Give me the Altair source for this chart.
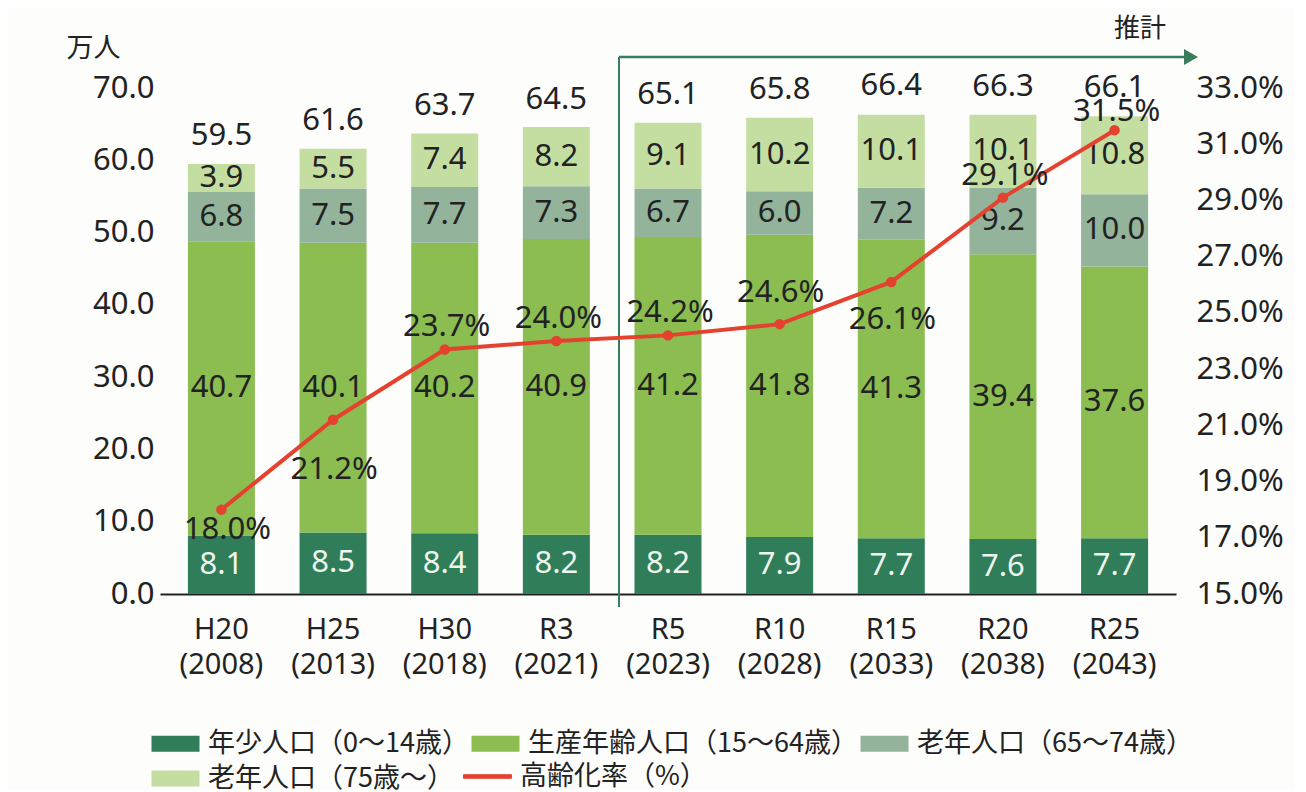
import altair as alt
import pandas as pd

# ---------------- data ----------------
categories = ["H20 (2008)", "H25 (2013)", "H30 (2018)", "R3 (2021)", "R5 (2023)",
              "R10 (2028)", "R15 (2033)", "R20 (2038)", "R25 (2043)"]
groups = ["年少人口（0～14歳）", "生産年齢人口（15～64歳）", "老年人口（65～74歳）", "老年人口（75歳～）"]
young = [8.1, 8.5, 8.4, 8.2, 8.2, 7.9, 7.7, 7.6, 7.7]
working = [40.7, 40.1, 40.2, 40.9, 41.2, 41.8, 41.3, 39.4, 37.6]
old65 = [6.8, 7.5, 7.7, 7.3, 6.7, 6.0, 7.2, 9.2, 10.0]
old75 = [3.9, 5.5, 7.4, 8.2, 9.1, 10.2, 10.1, 10.1, 10.8]
totals = [59.5, 61.6, 63.7, 64.5, 65.1, 65.8, 66.4, 66.3, 66.1]
aging_rate = [18.0, 21.2, 23.7, 24.0, 24.2, 24.6, 26.1, 29.1, 31.5]
line_name = "高齢化率（%）"

colors = ["#2f7d59", "#8bbd50", "#93b49a", "#c4dea2"]
line_color = "#e5412f"
bracket_color = "#3a7d5c"
FONT = "Noto Sans CJK JP"
NUMFONT = "Noto Sans"
FS = 31

# ---------------- tables ----------------
rows = []
series = [young, working, old65, old75]
for ci, cat in enumerate(categories):
    base = 0.0
    for gi, g in enumerate(groups):
        v = series[gi][ci]
        rows.append({"cat": cat, "group": g, "gi": gi, "value": v,
                     "mid": base + v / 2, "label": f"{v:.1f}"})
        base += v
seg = pd.DataFrame(rows)
tot = pd.DataFrame({"cat": categories, "total": totals,
                    "label": [f"{t:.1f}" for t in totals]})
rate = pd.DataFrame({"cat": categories, "rate": aging_rate, "series": line_name,
                     "label": [f"{r:.1f}%" for r in aging_rate]})

W, H = 1016, 506

xenc = alt.X("cat:N", sort=categories,
             scale=alt.Scale(paddingInner=0.4, paddingOuter=0.25),
             axis=alt.Axis(title=None, labelExpr="split(datum.label, ' ')",
                           labelFontSize=29, labelFont=NUMFONT, labelColor="#222",
                           labelAngle=0, labelPadding=21, labelLineHeight=35,
                           ticks=False, domainColor="#222", domainWidth=2))
xplain = alt.X("cat:N", sort=categories)

yscale = alt.Scale(domain=[0, 70], nice=False, zero=True)

bars = alt.Chart(seg).mark_bar().encode(
    x=xenc,
    y=alt.Y("value:Q", stack="zero", scale=yscale,
            axis=alt.Axis(values=[0, 10, 20, 30, 40, 50, 60, 70], format=".1f",
                          domain=False, ticks=False, grid=False,
                          labelFontSize=FS, labelFont=NUMFONT, labelColor="#222",
                          labelPadding=6,
                          title="万人", titleAngle=0, titleAlign="left",
                          titleBaseline="middle", titleX=-94, titleY=-40,
                          titleFontSize=27, titleFont=FONT, titleFontWeight="normal",
                          titleColor="#222")),
    color=alt.Color("group:N", scale=alt.Scale(domain=groups, range=colors),
                    legend=alt.Legend(title=None, orient="none", legendX=2, legendY=642,
                                      direction="horizontal", columns=3,
                                      symbolType="M-3,-1H3V1H-3Z", symbolSize=256,
                                      symbolStrokeWidth=0, symbolOpacity=1,
                                      labelFontSize=27, labelFont=FONT, labelColor="#222",
                                      labelLimit=500, labelOffset=19,
                                      columnPadding=2, rowPadding=7)),
    order=alt.Order("gi:Q", sort="ascending"),
)

seg_text = alt.Chart(seg).mark_text(fontSize=FS, font=NUMFONT, baseline="middle").encode(
    x=xplain,
    y=alt.Y("mid:Q", scale=yscale),
    text="label:N",
    color=alt.condition(alt.datum.gi == 0, alt.value("#eef5ec"), alt.value("#222")),
)

tot_text = alt.Chart(tot).mark_text(fontSize=FS, font=NUMFONT, baseline="middle", dy=-28,
                                    color="#222").encode(
    x=xplain,
    y=alt.Y("total:Q", scale=yscale),
    text="label:N",
)

one = alt.Data(values=[{"a": 1}])
vrule = alt.Chart(one).mark_rule(color=bracket_color, strokeWidth=2).encode(
    x=alt.value(459), y=alt.value(-31), y2=alt.value(519))
hrule = alt.Chart(one).mark_rule(color=bracket_color, strokeWidth=2.5).encode(
    x=alt.value(459), x2=alt.value(1026), y=alt.value(-31))
arrow = alt.Chart(one).mark_point(shape="triangle-right", filled=True, size=260,
                                  color=bracket_color, opacity=1).encode(
    x=alt.value(1031), y=alt.value(-31))
est_text = alt.Chart(one).mark_text(text="推計", fontSize=26, font=FONT, color="#222",
                                    baseline="middle").encode(
    x=alt.value(980), y=alt.value(-59))

left = alt.layer(bars, seg_text, tot_text, vrule, hrule, arrow, est_text)

rscale = alt.Scale(domain=[15, 33], nice=False, zero=False)
raxis = alt.Axis(orient="right", values=[15, 17, 19, 21, 23, 25, 27, 29, 31, 33],
                 labelExpr="format(datum.value, '.1f') + '%'",
                 domain=False, ticks=False, grid=False, title=None,
                 labelFontSize=FS, labelFont=NUMFONT, labelColor="#222",
                 labelPadding=20)
line = alt.Chart(rate).mark_line(strokeWidth=4).encode(
    x=xplain,
    y=alt.Y("rate:Q", scale=rscale, axis=raxis),
    stroke=alt.Stroke("series:N", scale=alt.Scale(domain=[line_name], range=[line_color]),
                      legend=alt.Legend(title=None, orient="none", legendX=314, legendY=675,
                                        symbolType="M-3,-0.22H3V0.22H-3Z", symbolSize=256,
                                        symbolStrokeWidth=1, symbolFillColor=line_color,
                                        labelFontSize=27, labelFont=FONT, labelColor="#222",
                                        labelLimit=500, labelOffset=19)),
)
pts = alt.Chart(rate).mark_point(filled=True, size=110, color=line_color, opacity=1).encode(
    x=xplain,
    y=alt.Y("rate:Q", scale=rscale, axis=raxis),
)


def pct_layer(cats, dx, dy):
    return alt.Chart(rate).transform_filter(
        alt.FieldOneOfPredicate(field="cat", oneOf=cats)
    ).mark_text(fontSize=FS, font=NUMFONT, baseline="middle", color="#222", dx=dx, dy=dy).encode(
        x=xplain,
        y=alt.Y("rate:Q", scale=rscale, axis=raxis),
        text="label:N",
    )


pct = alt.layer(
    pct_layer(["H30 (2018)", "R3 (2021)", "R5 (2023)", "R20 (2038)"], 2, -22),
    pct_layer(["R25 (2043)"], 2, -18),
    pct_layer(["R10 (2028)"], 1, -31),
    pct_layer(["H20 (2008)"], 6, 20),
    pct_layer(["H25 (2013)"], 1, 50),
    pct_layer(["R15 (2033)"], 1, 38),
)

right = alt.layer(line, pts, pct)

chart = alt.layer(left, right).resolve_scale(
    y="independent", color="independent", stroke="independent"
).properties(
    width=W, height=H,
    padding={"left": 152, "top": 80, "right": 118, "bottom": 196},
    autosize=alt.AutoSizeParams(type="none"),
    background="#fdfdfc",
).configure_view(stroke=None)

chart.save("out.html", embed_options={"renderer": "svg", "actions": False})
